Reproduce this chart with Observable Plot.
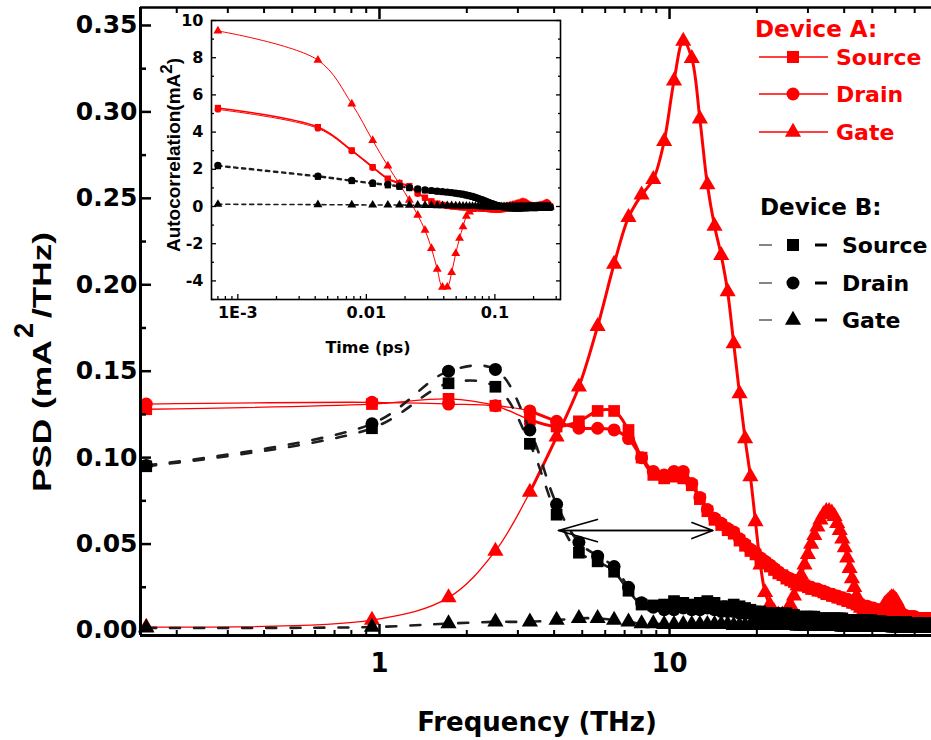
<!DOCTYPE html>
<html><head><meta charset="utf-8">
<script src="https://cdn.jsdelivr.net/npm/d3@7"></script>
<script src="https://cdn.jsdelivr.net/npm/@observablehq/plot@0.6"></script>
<style>
body{margin:0;background:#fff;}
#wrap{position:relative;width:931px;height:740px;overflow:hidden;background:#fff;}
#inset{position:absolute;left:150px;top:0px;}
</style></head><body><div id="wrap"></div>
<script>
// ---------- main chart data (frequency in THz, PSD in mA^2/THz) ----------
const freqTHz = [0.157,0.942,1.73,2.51,3.30,4.08,4.87,5.65,6.44,7.22,
8.01,8.79,9.58,10.36,11.15,11.93,12.72,13.50,14.29,15.07,
15.86,16.64,17.43,18.21,19.00,19.78,20.57,21.35,22.14,22.92,
23.71,24.49,25.28,26.06,26.85,27.63,28.42,29.20,29.99,30.77,
31.56,32.34,33.13,33.91,34.70,35.48,36.27,37.05,37.84,38.62,
39.41,40.19,40.98,41.76,42.55,43.33,44.12,44.90,45.69,46.47,
47.26,48.04,48.83,49.61,50.40,51.18,51.97,52.75,53.54,54.32,
55.11,55.89,56.68,57.46,58.25,59.03,59.82,60.60,61.39,62.17,
62.96,63.74,64.53,65.31,66.10,66.88,67.67,68.45,69.24,70.02,
70.81,71.59,72.38,73.16,73.95,74.73,75.52,76.30,77.09,77.87,
78.66,79.44];

const psdSourceA = [0.128,0.131,0.134,0.130,0.122,0.118,0.121,0.127,0.127,0.116,
0.100,0.090,0.088,0.089,0.088,0.084,0.076,0.069,0.064,0.061,
0.058,0.056,0.052,0.049,0.046,0.044,0.041,0.039,0.037,0.035,
0.033,0.032,0.030,0.029,0.028,0.027,0.026,0.026,0.025,0.024,
0.024,0.023,0.023,0.022,0.021,0.021,0.020,0.020,0.019,0.019,
0.018,0.018,0.017,0.017,0.016,0.016,0.015,0.015,0.014,0.014,
0.013,0.013,0.013,0.012,0.012,0.012,0.011,0.011,0.011,0.011,
0.010,0.010,0.010,0.010,0.010,0.009,0.009,0.009,0.009,0.009,
0.008,0.008,0.008,0.008,0.008,0.008,0.008,0.007,0.007,0.007,
0.007,0.007,0.007,0.007,0.007,0.007,0.007,0.007,0.007,0.007,
0.007,0.007];

const psdDrainA = [0.131,0.132,0.131,0.130,0.127,0.121,0.117,0.117,0.116,0.111,
0.100,0.092,0.090,0.092,0.092,0.085,0.077,0.070,0.065,0.062,
0.059,0.057,0.053,0.050,0.047,0.045,0.042,0.040,0.038,0.036,
0.034,0.032,0.031,0.030,0.029,0.028,0.027,0.026,0.025,0.025,
0.024,0.024,0.023,0.022,0.022,0.021,0.021,0.020,0.020,0.019,
0.019,0.018,0.018,0.017,0.017,0.016,0.016,0.015,0.015,0.014,
0.014,0.014,0.013,0.013,0.013,0.012,0.012,0.012,0.011,0.011,
0.011,0.011,0.010,0.010,0.010,0.010,0.010,0.009,0.009,0.009,
0.009,0.009,0.009,0.008,0.008,0.008,0.008,0.008,0.008,0.008,
0.007,0.007,0.007,0.007,0.007,0.007,0.007,0.007,0.007,0.007,
0.007,0.007];

const psdGateA = [0.002,0.006,0.019,0.046,0.080,0.112,0.141,0.176,0.212,0.239,
0.252,0.261,0.283,0.318,0.341,0.331,0.296,0.258,0.234,0.217,
0.196,0.166,0.137,0.111,0.089,0.063,0.038,0.022,0.015,0.011,
0.009,0.009,0.011,0.015,0.020,0.026,0.032,0.038,0.044,0.050,
0.055,0.060,0.064,0.067,0.069,0.069,0.068,0.066,0.062,0.058,
0.053,0.048,0.042,0.036,0.030,0.025,0.020,0.016,0.013,0.011,
0.009,0.008,0.008,0.008,0.008,0.008,0.009,0.010,0.011,0.013,
0.015,0.016,0.017,0.018,0.019,0.019,0.018,0.017,0.015,0.013,
0.011,0.009,0.007,0.006,0.005,0.004,0.004,0.004,0.003,0.003,
0.003,0.003,0.003,0.003,0.003,0.003,0.003,0.002,0.002,0.002,
0.002,0.002];

const psdSourceB = [0.095,0.117,0.143,0.141,0.108,0.067,0.045,0.040,0.034,0.023,
0.015,0.0145,0.015,0.017,0.016,0.015,0.016,0.017,0.016,0.014,
0.014,0.015,0.014,0.013,0.012,0.011,0.011,0.010,0.010,0.010,
0.009,0.010,0.010,0.009,0.009,0.008,0.008,0.008,0.008,0.008,
0.008,0.007,0.007,0.007,0.007,0.007,0.007,0.007,0.007,0.007,
0.007,0.006,0.006,0.006,0.006,0.006,0.006,0.006,0.006,0.006,
0.006,0.006,0.006,0.006,0.005,0.005,0.005,0.005,0.005,0.005,
0.005,0.005,0.005,0.005,0.005,0.005,0.005,0.005,0.005,0.005,
0.005,0.005,0.005,0.005,0.004,0.004,0.004,0.004,0.004,0.004,
0.004,0.004,0.004,0.004,0.004,0.004,0.004,0.004,0.004,0.004,
0.004,0.004];

const psdDrainB = [0.0955,0.1196,0.150,0.151,0.116,0.073,0.051,0.043,0.037,0.025,
0.016,0.0135,0.012,0.012,0.013,0.012,0.012,0.013,0.012,0.011,
0.011,0.011,0.010,0.010,0.010,0.009,0.009,0.009,0.008,0.008,
0.008,0.008,0.008,0.007,0.007,0.007,0.007,0.007,0.007,0.006,
0.006,0.006,0.006,0.006,0.006,0.006,0.006,0.006,0.005,0.005,
0.005,0.005,0.005,0.005,0.005,0.005,0.005,0.005,0.005,0.005,
0.005,0.005,0.005,0.005,0.005,0.005,0.005,0.005,0.005,0.005,
0.005,0.004,0.004,0.004,0.004,0.004,0.004,0.004,0.004,0.004,
0.004,0.004,0.004,0.004,0.004,0.004,0.004,0.004,0.004,0.004,
0.004,0.004,0.004,0.004,0.004,0.004,0.004,0.004,0.004,0.004,
0.004,0.004];

const psdGateB = [0.0015,0.002,0.004,0.005,0.005,0.006,0.007,0.007,0.006,0.005,
0.004,0.004,0.0035,0.0035,0.0035,0.0035,0.0035,0.0035,0.0035,0.0035,
0.0035,0.003,0.003,0.003,0.003,0.003,0.003,0.003,0.003,0.003,
0.003,0.003,0.003,0.003,0.003,0.0025,0.0025,0.0025,0.0025,0.0025,
0.0025,0.0025,0.0025,0.0025,0.0025,0.0025,0.0025,0.0025,0.0025,0.0025,
0.002,0.002,0.002,0.002,0.002,0.002,0.002,0.002,0.002,0.002,
0.002,0.002,0.002,0.002,0.002,0.002,0.002,0.002,0.002,0.002,
0.002,0.002,0.002,0.002,0.002,0.0015,0.0015,0.0015,0.0015,0.0015,
0.0015,0.0015,0.0015,0.0015,0.0015,0.0015,0.0015,0.0015,0.0015,0.0015,
0.0015,0.0015,0.0015,0.0015,0.0015,0.0015,0.0015,0.0015,0.0015,0.0015,
0.0015,0.0015];

const xDomain = [0.15, 80];
const yDomain = [-0.0029, 0.3604];
const yMajor = [0, 0.05, 0.10, 0.15, 0.20, 0.25, 0.30, 0.35];
const yMinor = [0.025, 0.075, 0.125, 0.175, 0.225, 0.275, 0.325];
const xMajor = [1, 10];
const xMajorLabels = ["1", "10"];
const xMinor = [0.2,0.3,0.4,0.5,0.6,0.7,0.8,0.9,2,3,4,5,6,7,8,9,20,30,40,50,60,70];
const arrowTHz = [4.14, 14.1];
const arrowPSD = 0.0578;

const seriesNames = ["Source", "Drain", "Gate"];
const deviceNames = ["Device A:", "Device B:"];

// ---------- inset data (time in ps, autocorrelation in mA^2) ----------
const timePs = [0.0007,0.0042,0.0077,0.0112,0.0147,0.0181,0.0216,0.0251,0.0286,0.0321,
0.0356,0.0391,0.0426,0.0461,0.0496,0.0531,0.0565,0.0600,0.0635,0.0670,
0.0705,0.0740,0.0775,0.0810,0.0845,0.0880,0.0914,0.0949,0.0984,0.1019,
0.1054,0.1089,0.1124,0.1159,0.1194,0.1229,0.1263,0.1298,0.1333,0.1368,
0.1403,0.1438,0.1473,0.1508,0.1543,0.1578,0.1612,0.1647,0.1682,0.1717,
0.1752,0.1787,0.1822,0.1857,0.1892,0.1927,0.1961,0.1996,0.2031,0.2066,
0.2101,0.2136,0.2171,0.2206,0.2241,0.2276,0.2310,0.2345,0.2380,0.2415,
0.2450,0.2485,0.2520,0.2555,0.2590,0.2625,0.2659,0.2694];

const acSourceA = [5.30,4.27,3.02,2.12,1.50,1.27,1.10,0.72,0.48,0.28,
0.16,0.09,0.04,0.01,-0.01,-0.03,-0.04,-0.05,-0.06,-0.07,
-0.08,-0.09,-0.10,-0.11,-0.12,-0.13,-0.14,-0.15,-0.15,-0.16,
-0.16,-0.16,-0.15,-0.14,-0.13,-0.11,-0.09,-0.07,-0.05,-0.03,
-0.01,0.01,0.03,0.05,0.06,0.07,0.08,0.08,0.07,0.06,
0.04,0.02,0.00,-0.02,-0.03,-0.04,-0.05,-0.05,-0.05,-0.04,
-0.03,-0.02,-0.01,0.00,0.01,0.02,0.03,0.04,0.05,0.06,
0.06,0.06,0.05,0.04,0.03,0.02,0.01,0.00];

const acDrainA = [5.22,4.20,2.98,2.08,1.46,1.22,1.05,0.68,0.45,0.26,
0.14,0.08,0.03,0.00,-0.02,-0.04,-0.05,-0.06,-0.07,-0.08,
-0.09,-0.10,-0.11,-0.12,-0.13,-0.14,-0.15,-0.15,-0.16,-0.16,
-0.16,-0.15,-0.14,-0.13,-0.12,-0.10,-0.08,-0.06,-0.04,-0.02,
0.00,0.02,0.04,0.06,0.08,0.10,0.11,0.12,0.12,0.11,
0.09,0.07,0.04,0.02,0.00,-0.02,-0.03,-0.04,-0.04,-0.04,
-0.03,-0.02,-0.01,0.00,0.01,0.02,0.03,0.04,0.05,0.06,
0.07,0.08,0.08,0.08,0.07,0.06,0.05,0.04];

const acGateA = [9.44,7.87,5.52,3.55,2.18,1.20,0.34,-0.47,-1.27,-2.25,
-3.37,-4.34,-4.33,-3.55,-2.52,-1.71,-1.09,-0.52,-0.29,-0.16,
-0.08,-0.03,0.00,0.02,0.03,0.03,0.02,0.00,-0.02,-0.04,
-0.05,-0.06,-0.06,-0.05,-0.04,-0.02,0.00,0.02,0.04,0.06,
0.08,0.10,0.12,0.14,0.16,0.18,0.20,0.22,0.22,0.20,
0.17,0.13,0.09,0.05,0.02,0.00,-0.02,-0.03,-0.03,-0.02,
-0.01,0.00,0.01,0.02,0.03,0.04,0.05,0.06,0.08,0.10,
0.12,0.14,0.15,0.15,0.14,0.11,0.08,0.05];

const acSourceB = [2.17,1.60,1.37,1.22,1.14,1.06,0.99,0.92,0.87,0.84,
0.81,0.78,0.76,0.73,0.70,0.67,0.64,0.60,0.56,0.52,
0.47,0.42,0.37,0.32,0.27,0.22,0.18,0.14,0.10,0.07,
0.04,0.01,-0.01,-0.03,-0.05,-0.06,-0.07,-0.08,-0.08,-0.09,
-0.09,-0.09,-0.09,-0.09,-0.09,-0.09,-0.08,-0.08,-0.08,-0.08,
-0.08,-0.07,-0.07,-0.07,-0.07,-0.07,-0.07,-0.06,-0.06,-0.06,
-0.06,-0.06,-0.06,-0.06,-0.05,-0.05,-0.05,-0.05,-0.05,-0.05,
-0.05,-0.05,-0.05,-0.05,-0.05,-0.05,-0.05,-0.05];

const acDrainB = [2.21,1.64,1.41,1.27,1.19,1.10,1.02,0.95,0.89,0.86,
0.83,0.80,0.78,0.75,0.72,0.69,0.66,0.62,0.58,0.54,
0.49,0.44,0.39,0.34,0.29,0.24,0.19,0.15,0.11,0.08,
0.05,0.02,0.00,-0.02,-0.04,-0.05,-0.06,-0.07,-0.07,-0.08,
-0.08,-0.08,-0.08,-0.08,-0.08,-0.08,-0.08,-0.07,-0.07,-0.07,
-0.07,-0.07,-0.07,-0.06,-0.06,-0.06,-0.06,-0.06,-0.06,-0.06,
-0.06,-0.06,-0.05,-0.05,-0.05,-0.05,-0.05,-0.05,-0.05,-0.05,
-0.05,-0.05,-0.05,-0.04,-0.04,-0.04,-0.04,-0.04];

const acGateB = [0.12,0.10,0.09,0.08,0.08,0.08,0.07,0.07,0.06,0.06,
0.05,0.05,0.04,0.04,0.03,0.03,0.02,0.02,0.01,0.01,
0.00,0.00,-0.01,-0.01,-0.01,-0.01,-0.02,-0.02,-0.02,-0.02,
-0.02,-0.02,-0.02,-0.02,-0.02,-0.02,-0.02,-0.02,-0.02,-0.02,
-0.02,-0.02,-0.02,-0.02,-0.02,-0.02,-0.02,-0.02,-0.02,-0.02,
-0.02,-0.02,-0.02,-0.02,-0.02,-0.02,-0.02,-0.02,-0.02,-0.02,
-0.02,-0.02,-0.02,-0.02,-0.02,-0.02,-0.02,-0.02,-0.02,-0.02,
-0.02,-0.02,-0.02,-0.02,-0.02,-0.02,-0.02,-0.02];

const insetXDomain = [0.000624, 0.324];
const insetYDomain = [-5, 10];
const insetYMajor = [-4, -2, 0, 2, 4, 6, 8, 10];
const insetYMinor = [-5, -3, -1, 1, 3, 5, 7, 9];
const insetXMajor = [0.001, 0.01, 0.1];
const insetXLabels = ["1E-3", "0.01", "0.1"];
const insetXMinor = [0.0007,0.0008,0.0009,0.002,0.003,0.004,0.005,0.006,0.007,0.008,0.009,
0.02,0.03,0.04,0.05,0.06,0.07,0.08,0.09,0.2,0.3];

// ---------- build ----------
const RED = "#ff0000", BLK = "#000000", DASH = "#1e1e1e";
const rowsOf = (xs, ys) => xs.map((x, i) => ({x, y: ys[i], i}));
const HFONT = "DejaVu Sans, Liberation Sans, Arial, sans-serif";
const RFONT = "Liberation Sans, Arial, sans-serif";
const labelFor = (values, labels) => d => { const k = values.findIndex(v => Math.abs(v - d) < 1e-9 * Math.max(1, Math.abs(v))); return k >= 0 ? labels[k] : ""; };

const mainA = [
  {vals: psdSourceA, symbol: "square", r: 6.6},
  {vals: psdDrainA, symbol: "circle", r: 6.5},
  {vals: psdGateA, symbol: "triangle", r: 6.0}
];
const mainB = [
  {vals: psdSourceB, symbol: "square", r: 6.6},
  {vals: psdDrainB, symbol: "circle", r: 6.5},
  {vals: psdGateB, symbol: "triangle", r: 6.0}
];

const marks = [];
for (const s of mainA) {
  const rows = rowsOf(freqTHz, s.vals);
  marks.push(Plot.line(rows, {x: "x", y: "y", stroke: RED, strokeWidth: 1.3, curve: "catmull-rom"}));
  marks.push(Plot.line(rows.filter(d => d.i >= 4), {x: "x", y: "y", stroke: RED, strokeWidth: 3, curve: "catmull-rom"}));
}
for (const s of mainA) {
  marks.push(Plot.dot(rowsOf(freqTHz, s.vals), {x: "x", y: "y", symbol: s.symbol, r: s.r, fill: RED, stroke: "none"}));
}
for (const s of mainB) {
  marks.push(Plot.line(rowsOf(freqTHz, s.vals), {x: "x", y: "y", stroke: DASH, strokeWidth: 2.6, strokeDasharray: "10,14", curve: "catmull-rom"}));
}
for (const s of mainB) {
  marks.push(Plot.dot(rowsOf(freqTHz, s.vals), {x: "x", y: "y", symbol: s.symbol, r: s.r, fill: BLK, stroke: "none"}));
}
// double-headed arrow
marks.push(Plot.arrow([{x1: arrowTHz[1], x2: arrowTHz[0], y: arrowPSD}], {x1: "x1", x2: "x2", y1: "y", y2: "y", stroke: BLK, strokeWidth: 1.6, headLength: 38, headAngle: 32}));
marks.push(Plot.arrow([{x1: arrowTHz[0], x2: arrowTHz[1], y: arrowPSD}], {x1: "x1", x2: "x2", y1: "y", y2: "y", stroke: BLK, strokeWidth: 1.6, headLength: 21, headAngle: 42}));
// frame lines
marks.push(Plot.ruleX([xDomain[0]], {stroke: BLK, strokeWidth: 3}));
marks.push(Plot.ruleY([yDomain[0]], {stroke: BLK, strokeWidth: 3}));
marks.push(Plot.ruleY([yDomain[1]], {stroke: BLK, strokeWidth: 2.5}));
// axes
marks.push(Plot.axisY({anchor: "left", ticks: yMajor, tickSize: -11, fill: "none", strokeWidth: 2.5, label: null}));
marks.push(Plot.axisY({anchor: "left", ticks: yMinor, tickSize: -6, fill: "none", strokeWidth: 2.5, label: null}));
marks.push(Plot.axisY({anchor: "left", ticks: yMajor, tickSize: 0, tickPadding: 3, tickFormat: d3.format(".2f"), fontSize: 25, fontWeight: "bold", label: null}));
marks.push(Plot.axisX({anchor: "bottom", ticks: xMajor, tickSize: -11, fill: "none", strokeWidth: 2.5, label: null}));
marks.push(Plot.axisX({anchor: "bottom", ticks: xMinor, tickSize: -5, fill: "none", strokeWidth: 2, label: null}));
marks.push(Plot.axisX({anchor: "bottom", ticks: xMajor, tickSize: 0, tickPadding: 18, tickFormat: labelFor(xMajor, xMajorLabels), fontSize: 26, fontWeight: "bold", label: null}));
marks.push(Plot.axisX({anchor: "top", ticks: xMajor, tickSize: -11, fill: "none", strokeWidth: 2.5, label: null}));
marks.push(Plot.axisX({anchor: "top", ticks: xMinor, tickSize: -5, fill: "none", strokeWidth: 2, label: null}));

const main = Plot.plot({
  width: 931, height: 740,
  marginLeft: 140, marginRight: 0, marginTop: 7, marginBottom: 105,
  style: {display: "block", background: "white", fontFamily: HFONT, fontWeight: "bold", color: "black"},
  x: {type: "log", domain: xDomain, label: null},
  y: {domain: yDomain, label: null},
  marks
});
document.getElementById("wrap").appendChild(main);

// axis titles and legend
{
  const svg = d3.select(main);
  svg.append("text").attr("x", 537).attr("y", 731).attr("text-anchor", "middle")
    .attr("font-family", HFONT).attr("font-weight", "bold").attr("font-size", 26).attr("fill", BLK)
    .text("Frequency (THz)");
  // y title: "PSD (mA" + superscript 2 + "/THz)", rotated
  const yt = svg.append("g").attr("font-family", RFONT).attr("font-weight", "bold").attr("fill", BLK).attr("text-anchor", "start");
  yt.append("text").attr("transform", "translate(51,492) rotate(-90)").attr("font-size", 25)
    .attr("textLength", 152).attr("lengthAdjust", "spacingAndGlyphs").text("PSD (mA");
  yt.append("text").attr("transform", "translate(33,338) rotate(-90)").attr("font-size", 27).text("2");
  yt.append("text").attr("transform", "translate(51,318) rotate(-90)").attr("font-size", 25)
    .attr("textLength", 86).attr("lengthAdjust", "spacingAndGlyphs").text("/THz)");

  const lg = svg.append("g").attr("font-family", HFONT).attr("font-weight", "bold").attr("text-anchor", "start");
  const symOf = {square: d3.symbolSquare, circle: d3.symbolCircle, triangle: d3.symbolTriangle};
  const sizes = {square: 144, circle: 133, triangle: 113};
  const syms = ["square", "circle", "triangle"];
  lg.append("text").attr("x", 755).attr("y", 37).attr("font-size", 23).attr("fill", RED).attr("text-anchor", "start").text(deviceNames[0]);
  [57, 94, 132].forEach((y, i) => {
    lg.append("line").attr("x1", 759).attr("x2", 828).attr("y1", y).attr("y2", y).attr("stroke", RED).attr("stroke-width", 1.3);
    lg.append("path").attr("d", d3.symbol(symOf[syms[i]], sizes[syms[i]])()).attr("transform", `translate(793,${y})`).attr("fill", RED);
    lg.append("text").attr("x", 836).attr("y", y + 8).attr("font-size", 22).attr("fill", RED).attr("text-anchor", "start").text(seriesNames[i]);
  });
  lg.append("text").attr("x", 760).attr("y", 215).attr("font-size", 23).attr("fill", BLK).attr("text-anchor", "start").text(deviceNames[1]);
  [245, 283, 320].forEach((y, i) => {
    lg.append("line").attr("x1", 759).attr("x2", 772).attr("y1", y).attr("y2", y).attr("stroke", "#333").attr("stroke-width", 1.2);
    lg.append("line").attr("x1", 815).attr("x2", 827).attr("y1", y).attr("y2", y).attr("stroke", BLK).attr("stroke-width", 3);
    lg.append("path").attr("d", d3.symbol(symOf[syms[i]], sizes[syms[i]])()).attr("transform", `translate(793,${y})`).attr("fill", BLK);
    lg.append("text").attr("x", 842).attr("y", y + 8).attr("font-size", 22).attr("fill", BLK).attr("text-anchor", "start").text(seriesNames[i]);
  });
}

// ---------- inset ----------
const insetA = [
  {vals: acSourceA, symbol: "square", r: 3.5, sw: 1.6},
  {vals: acDrainA, symbol: "circle", r: 3.2, sw: 1.0},
  {vals: acGateA, symbol: "triangle", r: 3.3, sw: 1.0}
];
const insetB = [
  {vals: acSourceB, symbol: "square", r: 3.5},
  {vals: acDrainB, symbol: "circle", r: 3.6},
  {vals: acGateB, symbol: "triangle", r: 3.3}
];
const im = [Plot.frame({fill: "white", stroke: "none"})];
for (const s of insetB) im.push(Plot.line(rowsOf(timePs, s.vals), {x: "x", y: "y", stroke: DASH, strokeWidth: 1.6, strokeDasharray: "4,4", curve: "catmull-rom"}));
for (const s of insetA) im.push(Plot.line(rowsOf(timePs, s.vals), {x: "x", y: "y", stroke: RED, strokeWidth: s.sw, curve: "catmull-rom"}));
for (const s of insetA) im.push(Plot.dot(rowsOf(timePs, s.vals), {x: "x", y: "y", symbol: s.symbol, r: s.r, fill: RED, stroke: "none"}));
for (const s of insetB) im.push(Plot.dot(rowsOf(timePs, s.vals), {x: "x", y: "y", symbol: s.symbol, r: s.r, fill: BLK, stroke: "none"}));
im.push(Plot.frame({stroke: BLK, strokeWidth: 1.6}));
im.push(Plot.axisY({anchor: "left", ticks: insetYMajor, tickSize: -5, fill: "none", strokeWidth: 1.3, label: null}));
im.push(Plot.axisY({anchor: "left", ticks: insetYMinor, tickSize: -3, fill: "none", strokeWidth: 1.3, label: null}));
im.push(Plot.axisY({anchor: "right", ticks: insetYMajor, tickSize: -5, fill: "none", strokeWidth: 1.3, label: null}));
im.push(Plot.axisY({anchor: "right", ticks: insetYMinor, tickSize: -3, fill: "none", strokeWidth: 1.3, label: null}));
im.push(Plot.axisY({anchor: "left", ticks: insetYMajor, tickSize: 0, tickPadding: 8, tickFormat: d => String(d), fontSize: 16, fontWeight: "bold", label: null}));
im.push(Plot.axisX({anchor: "bottom", ticks: insetXMajor, tickSize: -5, fill: "none", strokeWidth: 1.3, label: null}));
im.push(Plot.axisX({anchor: "bottom", ticks: insetXMinor, tickSize: -3, fill: "none", strokeWidth: 1.3, label: null}));
im.push(Plot.axisX({anchor: "bottom", ticks: insetXMajor, tickSize: 0, tickPadding: 7, tickFormat: labelFor(insetXMajor, insetXLabels), fontSize: 16, fontWeight: "bold", label: null}));

const inset = Plot.plot({
  width: 420, height: 360,
  marginLeft: 61, marginRight: 10, marginTop: 20, marginBottom: 61,
  style: {background: "transparent", overflow: "visible", fontFamily: HFONT, fontWeight: "bold", color: "black"},
  x: {type: "log", domain: insetXDomain, label: null},
  y: {domain: insetYDomain, label: null},
  marks: im
});
inset.id = "inset";
document.getElementById("wrap").appendChild(inset);
{
  const svg = d3.select(inset);
  svg.append("text").attr("x", 218).attr("y", 353).attr("text-anchor", "middle")
    .attr("font-family", HFONT).attr("font-weight", "bold").attr("font-size", 16).attr("fill", BLK).text("Time (ps)");
  const t = svg.append("text").attr("transform", "translate(30,155) rotate(-90)").attr("text-anchor", "middle")
    .attr("font-family", RFONT).attr("font-weight", "bold").attr("font-size", 19).attr("fill", BLK);
  t.append("tspan").text("Autocorrelation(mA");
  t.append("tspan").attr("dy", -8).attr("font-size", 17).text("2");
  t.append("tspan").attr("dy", 8).text(")");
}
</script>
</body></html>
